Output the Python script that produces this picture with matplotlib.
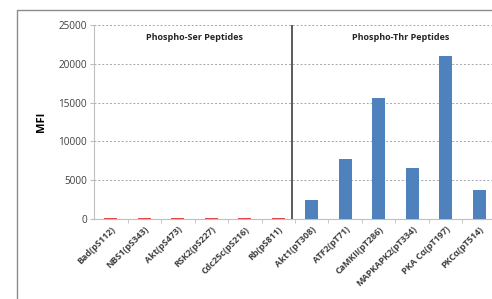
import matplotlib

matplotlib.use("Agg")
import matplotlib.pyplot as plt
from matplotlib.lines import Line2D

# Peptides on the x axis, MFI
PEPTIDES = ["Bad(pS112)", "NBS1(pS343)", "Akt(pS473)", "RSK2(pS227)",
            "Cdc25c(pS216)", "Rb(pS811)", "Akt1(pT308)", "ATF2(pT71)",
            "CaMKII(pT286)", "MAPKAPK2(pT334)", "PKA C\u03b1(pT197)",
            "PKC\u03b1(pT514)"]
MFI = [120, 120, 120, 120, 120, 120, 2400, 7750, 15650, 6600, 21000, 3800]
IS_SER = [True] * 6 + [False] * 6
Y_TICKS = [0, 5000, 10000, 15000, 20000, 25000]

BLUE = "#4f81bd"
RED = "#e0484a"
GREY = "#bfbfbf"

plt.rcParams["font.family"] = ["Open Sans", "DejaVu Sans"]

fig = plt.figure(figsize=(4.92, 2.99), dpi=100)
# chart-area border, only left/top are visible in the crop
bx, by = 17 / 492, 1 - 10 / 299
fig.lines.append(Line2D([bx, bx, 1.0], [0.0, by, by], transform=fig.transFigure,
                        color="#8c8c8c", linewidth=1.0))

ax = fig.add_axes([94 / 492, 1 - 219 / 299, 402 / 492, 194 / 299])
x = list(range(len(PEPTIDES)))
colors = [RED if s else BLUE for s in IS_SER]
ax.bar(x, MFI, width=0.4, color=colors, zorder=3)

ax.set_xlim(-0.5, len(PEPTIDES) - 0.5)
ax.set_ylim(0, 25000)
ax.set_yticks(Y_TICKS)
ax.set_yticklabels([str(v) for v in Y_TICKS], fontsize=7.2, color="#404040")
ax.yaxis.grid(True, linestyle=(0, (2, 2)), color="#a6a6a6", linewidth=0.7)
ax.set_axisbelow(True)

ax.set_xticks(x)
ax.set_xticklabels(PEPTIDES, rotation=45, ha="right", rotation_mode="anchor",
                   fontsize=6.5, fontweight="bold", color="#404040")
ax.tick_params(axis="x", length=0, pad=4)
ax.set_xticks([i + 0.5 for i in x], minor=True)
ax.tick_params(axis="x", which="minor", length=3, color=GREY, direction="out")
ax.tick_params(axis="y", length=3, color=GREY, pad=2)

for side in ["top", "right"]:
    ax.spines[side].set_visible(False)
for side in ["left", "bottom"]:
    ax.spines[side].set_color(GREY)

ax.set_ylabel("MFI", fontsize=8, fontweight="bold", labelpad=8)

ax.axvline(5.42, color="#404040", linewidth=1.2, zorder=4)
ax.text(2.49, 23450, "Phospho-Ser Peptides", ha="center", va="center",
        fontsize=6.5, fontweight="bold", color="#262626")
ax.text(8.66, 23450, "Phospho-Thr Peptides", ha="center", va="center",
        fontsize=6.5, fontweight="bold", color="#262626")

fig.savefig("out.png", dpi=100)
